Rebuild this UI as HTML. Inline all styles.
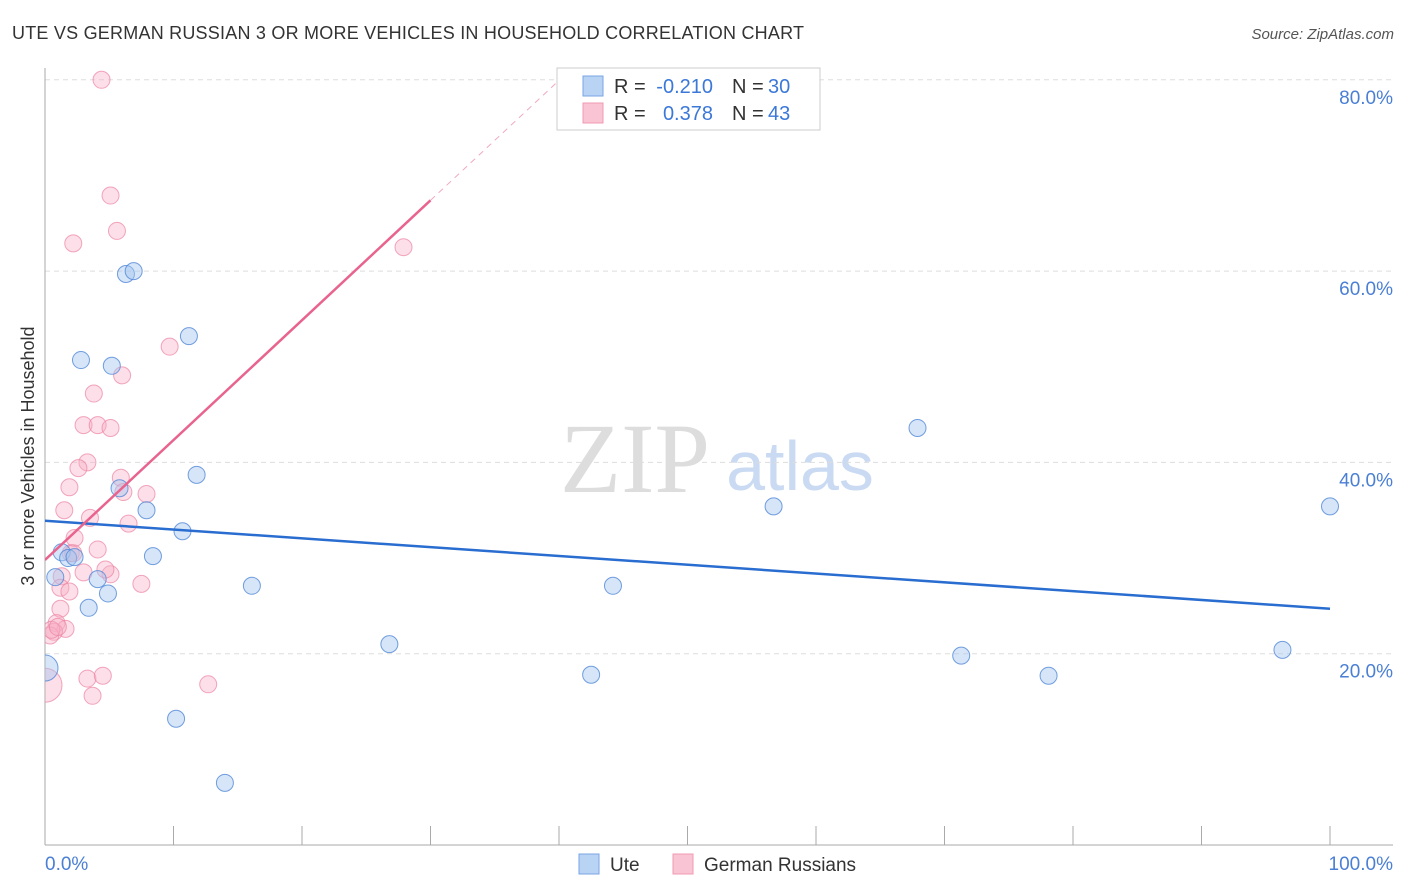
<!DOCTYPE html>
<html><head><meta charset="utf-8"><style>
body{margin:0;background:#fff;font-family:"Liberation Sans",sans-serif}
svg{display:block}
</style></head><body>
<svg id="c" width="1406" height="892">
<defs><clipPath id="pc"><rect x="45" y="60" width="1360" height="785"/></clipPath></defs>
<text x="12" y="39" font-size="18" fill="#333" textLength="792">UTE VS GERMAN RUSSIAN 3 OR MORE VEHICLES IN HOUSEHOLD CORRELATION CHART</text>
<text x="1394" y="39" font-size="15" fill="#555" font-style="italic" text-anchor="end">Source: ZipAtlas.com</text>
<text x="0" y="0" transform="translate(34,456) rotate(-90)" font-size="18" fill="#333" text-anchor="middle">3 or more Vehicles in Household</text>
<text x="635" y="492" font-size="100" fill="#ddd" font-family="Liberation Serif,serif" text-anchor="middle">ZIP</text>
<text x="800" y="490" font-size="70" fill="#c9daf2" text-anchor="middle">atlas</text>
<g id="grid"></g><g id="marks" clip-path="url(#pc)"></g>
<g>
<rect x="557" y="68" width="263" height="62" fill="#fff" stroke="#ccc"/>
<rect x="583" y="76" width="20" height="20" fill="#b9d3f5" stroke="#7aa5e3"/>
<rect x="583" y="103" width="20" height="20" fill="#f9c4d3" stroke="#f09ab2"/>
<text x="614" y="93" font-size="20" fill="#333">R =</text>
<text x="713" y="93" font-size="20" fill="#3b78d8" text-anchor="end">-0.210</text>
<text x="732" y="93" font-size="20" fill="#333">N =</text>
<text x="768" y="93" font-size="20" fill="#3b78d8">30</text>
<text x="614" y="120" font-size="20" fill="#333">R =</text>
<text x="713" y="120" font-size="20" fill="#3b78d8" text-anchor="end">0.378</text>
<text x="732" y="120" font-size="20" fill="#333">N =</text>
<text x="768" y="120" font-size="20" fill="#3b78d8">43</text>
</g>
<g>
<rect x="579" y="854" width="20" height="20" fill="#b9d3f5" stroke="#7aa5e3"/>
<text x="610" y="871" font-size="19" fill="#333">Ute</text>
<rect x="673" y="854" width="20" height="20" fill="#f9c4d3" stroke="#f09ab2"/>
<text x="704" y="871" font-size="19" fill="#333">German Russians</text>
</g>
</svg>
<script>
const uteX=[2.8,5.2,6.3,6.9,11.2,11.8,7.9,5.8,10.7,8.4,1.3,1.8,2.3,0.8,4.1,4.9,3.4,16.1,26.8,10.2,14.0,42.5,44.2,56.7,67.9,71.3,78.1,96.3,100,0];
const uteY=[50.7,50.1,59.7,60.0,53.2,38.7,35.0,37.3,32.8,30.2,30.6,30.0,30.1,28.0,27.8,26.3,24.8,27.1,21.0,13.2,6.5,17.8,27.1,35.4,43.6,19.8,17.7,20.4,35.4,18.5];
const grX=[4.4,5.1,5.6,2.2,27.9,9.7,6.0,3.8,3.0,4.1,5.1,3.3,2.6,5.9,6.1,1.9,7.9,1.5,3.5,6.5,2.3,4.1,2.0,3.0,5.1,4.7,7.5,1.3,1.2,1.9,1.2,0.9,1.6,0.7,0.4,0.5,3.3,4.5,3.7,12.7,0,2.2,1.0];
const grY=[80.0,67.9,64.2,62.9,62.5,52.1,49.1,47.2,43.9,43.9,43.6,40.0,39.4,38.4,36.9,37.4,36.7,35.0,34.2,33.6,32.1,30.9,30.5,28.5,28.3,28.8,27.3,28.1,26.9,26.5,24.7,23.2,22.6,22.3,21.9,22.5,17.4,17.7,15.6,16.8,16.7,30.5,22.8];
const uteTrend=[33.9,24.7];
const grTrend=[29.8,67.4,30];
const yTicks=[20,40,60,80];
const xTickLabels=["0.0%","100.0%"];
const NS="http://www.w3.org/2000/svg";
const sx=v=>45+v*12.85, sy=v=>845-v*9.565;
function mk(t,a,p){const e=document.createElementNS(NS,t);for(const k in a)e.setAttribute(k,a[k]);p.appendChild(e);return e;}
const g=document.getElementById('grid'), m=document.getElementById('marks');
yTicks.forEach(v=>{
 const l=mk('line',{x1:45,x2:1393,y1:sy(v),y2:sy(v),stroke:'#ddd','stroke-dasharray':'5,4'},g);
 
 
 const t=mk('text',{x:1393,y:sy(v)+24,'font-size':19,fill:'#4a7fd4','text-anchor':'end'},g);
 t.textContent=v.toFixed(1)+'%';
 
 
});
mk('line',{x1:45,x2:45,y1:68,y2:845,stroke:'#aaa'},g);
mk('line',{x1:45,x2:1393,y1:845,y2:845,stroke:'#aaa'},g);
for(let i=0;i<=10;i++){mk('line',{x1:sx(i*10),x2:sx(i*10),y1:826,y2:845,stroke:'#aaa'},g);}
const xl0=mk('text',{x:45,y:870,'font-size':19,fill:'#4a7fd4'},g);xl0.textContent=xTickLabels[0];


const xl1=mk('text',{x:1393,y:870,'font-size':19,fill:'#4a7fd4','text-anchor':'end'},g);xl1.textContent=xTickLabels[1];


grX.forEach((x,i)=>{
 const big=x===0;
 const c=mk('circle',{cx:sx(x),cy:sy(grY[i]),r:big?17:8.5,fill:'rgba(247,176,198,0.4)',stroke:'rgba(236,130,162,0.7)','stroke-width':1},m);
 
 
});
uteX.forEach((x,i)=>{
 const big=x===0;
 const c=mk('circle',{cx:sx(x),cy:sy(uteY[i]),r:big?13:8.5,fill:'rgba(165,197,240,0.45)',stroke:'rgba(80,135,215,0.8)','stroke-width':1},m);
 
 
});
const ut=mk('line',{x1:sx(0),y1:sy(uteTrend[0]),x2:sx(100),y2:sy(uteTrend[1]),stroke:'#2a6dd0','stroke-width':2.5},m);


const slope=(grTrend[1]-grTrend[0])/grTrend[2];
const gt=mk('line',{x1:sx(0),y1:sy(grTrend[0]),x2:sx(grTrend[2]),y2:sy(grTrend[1]),stroke:'#e8648f','stroke-width':2.5},m);


const xe=40;
const gd=mk('line',{x1:sx(grTrend[2]),y1:sy(grTrend[1]),x2:sx(xe),y2:sy(grTrend[0]+slope*xe),stroke:'#f0a8bf','stroke-width':1,'stroke-dasharray':'6,5'},m);


</script>
</body></html>
